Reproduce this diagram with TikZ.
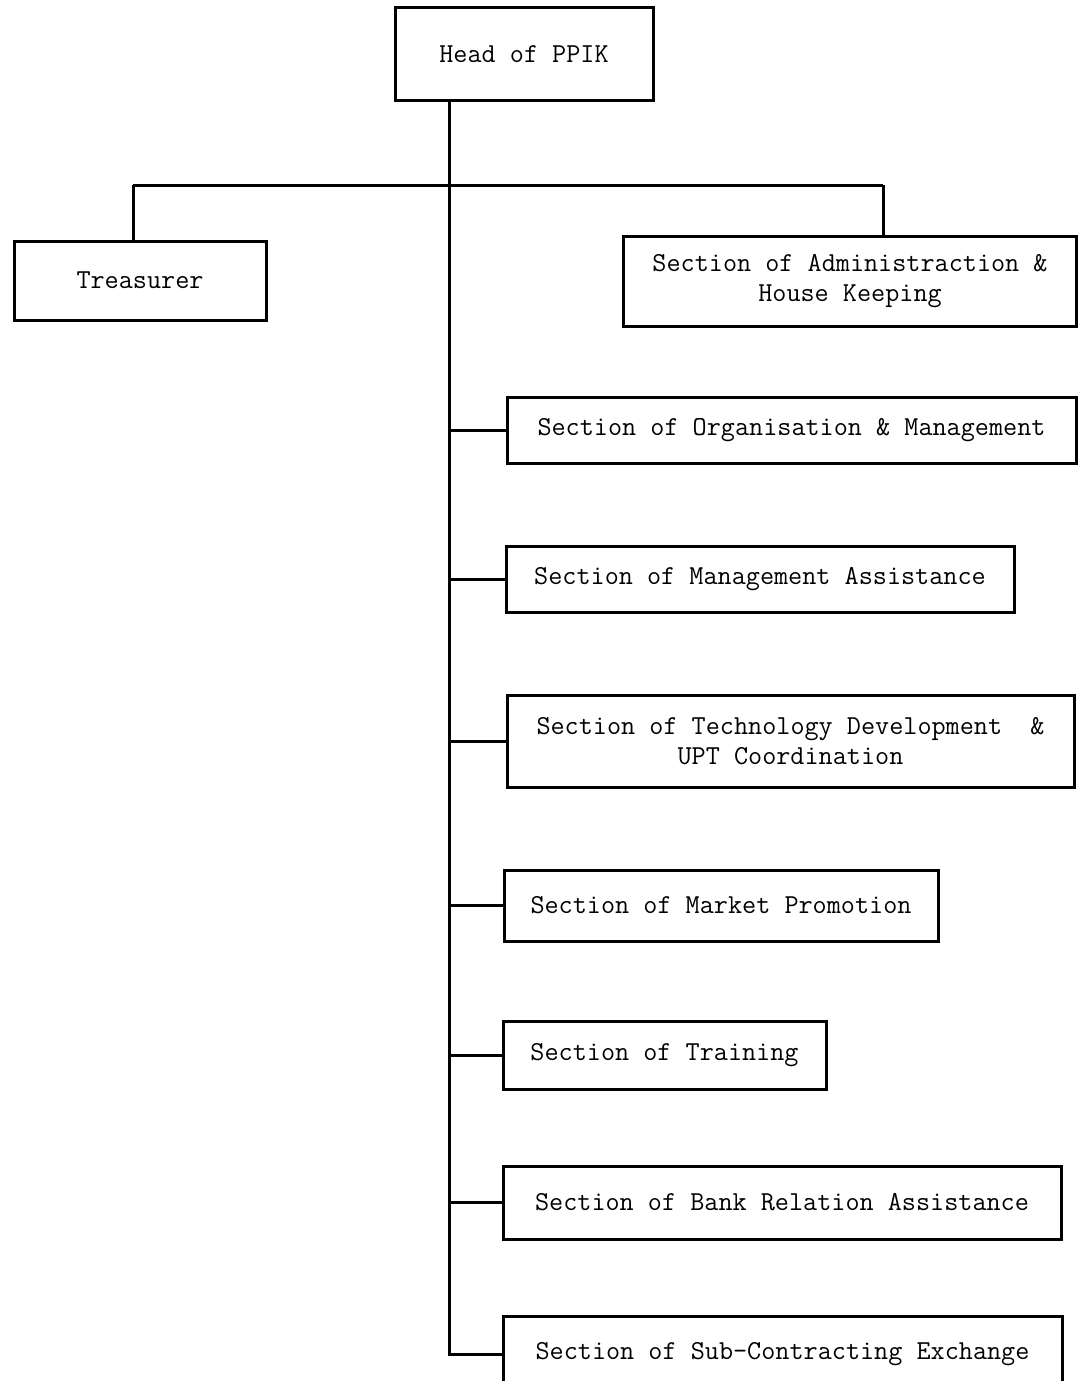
\documentclass[tikz,border=0pt]{standalone}
\usetikzlibrary{positioning}

\begin{document}
\begin{tikzpicture}[x=1pt, y=-1pt,
				unit/.style = {draw, line width=3pt, inner sep=0pt, align=center,
					font=\ttfamily\fontsize{27.4}{30}\selectfont},
				link/.style = {line width=3pt},
			]
			\useasboundingbox (0,0) rectangle (1078,1381);
			% top of the chart
			\node[unit, minimum width=258, minimum height=92] (head) at (524,54) {Head of PPIK};
			\node[unit, minimum width=252, minimum height=79] (treasurer) at (140,280.5) {Treasurer};
			\node[unit, minimum width=453, minimum height=90] (admin) at (850,281)
				{Section of Administraction \&\\House Keeping};
			% sections on the trunk
			\node[unit, minimum width=569, minimum height=66] (orgman) at (791.5,430)
				{Section of Organisation \& Management};
			\node[unit, minimum width=508, minimum height=66] (mgtassist) at (760,579)
				{Section of Management Assistance};
			\node[unit, minimum width=567, minimum height=92] (techdev) at (790.5,741)
				{Section of Technology Development\ \ \&\\UPT Coordination};
			\node[unit, minimum width=434, minimum height=71] (market) at (721,905.5)
				{Section of Market Promotion};
			\node[unit, minimum width=323, minimum height=68] (training) at (664.5,1055)
				{Section of Training};
			\node[unit, minimum width=558, minimum height=73] (bank) at (782,1202.5)
				{Section of Bank Relation Assistance};
			\node[unit, minimum width=559, minimum height=76] (subcon) at (782.5,1354)
				{Section of Sub-Contracting Exchange};
			% connectors
			\coordinate (trunk) at (449,0);
			\coordinate (busL) at (133,185);
			\coordinate (busR) at (883,185);
			\draw[link] (busL) -- (busR);
			\draw[link] (busL) -- (busL |- treasurer.north);
			\draw[link] (busR) -- (busR |- admin.north);
			\draw[link] (trunk |- head.south) -- (trunk |- subcon.west) -- (subcon.west);
			\foreach \n in {orgman, mgtassist, techdev, market, training, bank}
				\draw[link] (trunk |- \n.west) -- (\n.west);
		\end{tikzpicture}
\end{document}
